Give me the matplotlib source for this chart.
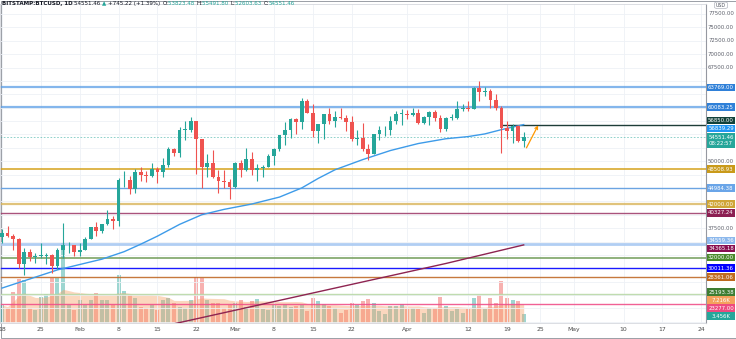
import numpy as np
import pandas as pd
import matplotlib
matplotlib.use('Agg')
import matplotlib.pyplot as plt
from matplotlib.patches import Rectangle, FancyBboxPatch

# BTCUSD daily candles, 2021-01-18 .. 2021-04-22
opens = [35800, 36600, 36000, 35500, 30800, 33000, 32100, 32300, 32300, 32500, 30400, 33400, 34300, 34300,
         33100, 33500, 35500, 37700, 36900, 38300, 39200,
         38900, 46400, 46500, 44900, 48000, 47400, 47200,
         48600, 47900, 49200, 52200, 51600, 55900, 55900,
         57500, 54200, 48900, 49700, 47100, 46300, 46200,
         45200, 49600, 48400, 50500, 48400, 48800, 48900,
         50900, 52300, 54900, 55900, 57800, 57300, 61200,
         59000, 55600, 56900, 58900, 57600, 58300, 58100,
         57300, 54100, 54300, 52300, 51300, 55000, 55800,
         55800, 57600, 58800, 58800, 58700, 59000, 57100,
         58200, 59100, 58000, 56000, 58100, 58100, 59800,
         59900, 59800, 63600, 62900, 63200, 61400, 60000,
         56200, 55700, 56500, 53823.48]
highs = [37400, 37850, 36400, 35600, 33800, 33600, 32900, 34800, 32800, 32600, 33800, 38500, 34900, 34300,
         34700, 35900, 37700, 38700, 38300, 40900, 39700,
         46800, 48200, 47300, 48600, 48900, 48100, 49700,
         49000, 50600, 52600, 52500, 56300, 57500, 58300,
         57500, 54200, 51400, 52100, 48400, 48300, 46600,
         49800, 50200, 52500, 51800, 49400, 49200, 51400,
         52400, 54900, 57400, 58100, 58000, 61800, 61600,
         60600, 56900, 58900, 60000, 59400, 59900, 58600,
         58400, 55800, 57100, 53200, 55100, 56600, 56600,
         58400, 59400, 59800, 59500, 60000, 59800, 58500,
         59300, 59500, 58600, 58200, 58900, 61200, 60700,
         61200, 63800, 64900, 63800, 63500, 62500, 60400,
         57600, 57000, 56800, 55491.80]
lows = [34800, 35900, 33400, 30100, 28800, 31400, 30900, 31900, 30800, 29200, 29900, 31900, 32800, 32300,
        32300, 33400, 35400, 36100, 36600, 38100, 37400,
        37900, 45100, 43800, 44000, 46300, 46200, 47000,
        45900, 47000, 48900, 50900, 50700, 53900, 55500,
        47600, 45000, 47100, 46900, 44100, 45000, 43000,
        45000, 47000, 48200, 47500, 46300, 47100, 48900,
        49300, 51900, 53100, 54300, 55000, 56100, 59000,
        54600, 53400, 54100, 57000, 56300, 57900, 55600,
        53700, 53000, 52000, 50300, 51300, 53900, 54700,
        54900, 57000, 56800, 57900, 58500, 56900, 56900,
        56800, 57600, 55500, 55700, 57700, 57900, 59300,
        59300, 59800, 61300, 62100, 60000, 59600, 51500,
        54200, 53400, 53600, 52603.63]
closes = [36600, 36000, 35500, 30800, 33000, 32100, 32300, 32300, 32500, 30400, 33400, 34300, 34300, 33100,
          33500, 35500, 37700, 36900, 38300, 39200, 38900,
          46400, 46500, 44900, 48000, 47400, 47200, 48600,
          47900, 49200, 52200, 51600, 55900, 55900, 57500,
          54200, 48900, 49700, 47100, 46300, 46200, 45200,
          49600, 48400, 50500, 48400, 48800, 48900, 50900,
          52300, 54900, 55900, 57800, 57300, 61200, 59000,
          55600, 56900, 58900, 57600, 58300, 58100, 57300,
          54100, 54300, 52300, 51300, 55000, 55800, 55800,
          57600, 58800, 58800, 58700, 59000, 57100, 58200,
          59100, 58000, 56000, 58100, 58100, 59800, 59900,
          59800, 63600, 62900, 63200, 61400, 60000, 56200,
          55700, 56500, 53800, 54551.46]
volumes = [6840, 5700, 11780, 16720, 16340, 5700, 4940, 9880, 11020, 17100, 17100, 30400, 6840, 4940,
           8740, 6840, 8740, 11400, 8740, 8740, 6840,
           18240, 12160, 10640, 9500, 6080, 5700, 6840,
           4940, 8740, 9500, 7600, 6080, 5700, 8740,
           17480, 17100, 8740, 7600, 7600, 5700, 6840,
           7600, 8740, 6080, 8360, 9120, 5320, 4940,
           6840, 6460, 7220, 6080, 6460, 6840, 4560,
           9500, 8360, 7220, 6460, 5700, 3800, 4940,
           7600, 6840, 8360, 9120, 7600, 4560, 3420,
           6460, 6460, 7220, 5320, 5700, 5320, 3800,
           5700, 5700, 9880, 6460, 4560, 5320, 3800,
           5320, 9500, 10640, 5320, 9500, 7600, 15960,
           9500, 8740, 8244, 3456]

# moving averages (day index, value)
ma50_days = [0, 5, 10, 14, 18, 22, 25, 28, 32, 36, 40, 45, 50, 54, 57, 60, 65, 70, 75, 80, 84, 87, 90, 94]
ma50_vals = [26300, 28000, 29700, 30700, 31700, 33100, 34500, 36000, 38200, 40000, 41000, 42000, 43300,
             45000, 46800, 48400, 50300, 52000, 53300, 54200, 54600, 55100, 55900, 56839.29]
ma200_days = [20, 40, 60, 80, 94]
ma200_vals = [17100, 21700, 26300, 30900, 34365.18]

# horizontal levels
levels = [63769.00, 60083.25, 48508.93, 44984.38, 42000.00, 40327.24,
          34559.36, 32000.00, 30011.36, 28361.06, 25193.38, 23277.00]
level_line_colors = ['#5b9ee6', '#5b9ee6', '#d4a017', '#5d9ce0', '#d9b55a', '#a0406e',
                     '#a9c9f2', '#6f9a55', '#1a1aff', '#c06a28', '#b9d9a8', '#f0508a']
level_label_colors = ['#2f80d8', '#2f80d8', '#c99a1a', '#6aa5e8', '#cfa637', '#8c1f52',
                      '#8cb8ec', '#4a8a2a', '#0000ff', '#bf6a1f', '#3e7d32', '#ee4a7e']
level_widths = [1.6, 1.6, 1.2, 1.0, 1.6, 1.0, 2.0, 1.2, 1.0, 1.0, 1.0, 1.0]
level_alpha = [0.75, 0.75, 0.9, 0.9, 0.8, 0.9, 0.9, 0.9, 1.0, 0.9, 0.9, 0.9]
resistance = 56850.00

tick_dates = ['2021-01-18', '2021-01-25', '2021-02-01', '2021-02-08', '2021-02-15', '2021-02-22',
              '2021-03-01', '2021-03-08', '2021-03-15', '2021-03-22', '2021-04-01', '2021-04-12',
              '2021-04-19', '2021-04-25', '2021-05-01', '2021-05-10', '2021-05-17', '2021-05-24']
tick_labels = ['18', '25', 'Feb', '8', '15', '22', 'Mar', '8', '15', '22', 'Apr', '12', '19', '25',
               'May', '10', '17', '24']

opens, highs, lows, closes = map(np.array, (opens, highs, lows, closes))
volumes = np.array(volumes, dtype=float)
n = len(opens)
x = np.arange(n)
start = pd.Timestamp('2021-01-18')
tick_pos = [(pd.Timestamp(d) - start).days for d in tick_dates]

UP, DOWN = '#26a69a', '#ef5350'
W, H = 736, 339
fig = plt.figure(figsize=(W / 100, H / 100), dpi=100)
ax = fig.add_axes([0, 16 / H, 706 / W, 319 / H])
vax = ax.twinx()
ax.set_zorder(2)
vax.set_zorder(1)
ax.patch.set_visible(False)

ax.set_xlim(-0.36, 126.85)
ax.set_ylim(19777, 79367)
vax.set_ylim(0, 319 * 380)
vax.axis('off')

# grid
ax.set_xticks(tick_pos, tick_labels)
ax.set_yticks(np.arange(20000, 80000, 2500))
ax.grid(color='#eef1f6', lw=0.6)
ax.tick_params(axis='x', length=0, pad=3.2, labelsize=4.4, colors='#4a4a4a')
ax.tick_params(axis='y', left=False, right=False, labelleft=False, labelright=False)
for s in ['top', 'left', 'bottom']:
    ax.spines[s].set_color('#d6d8de')
    ax.spines[s].set_linewidth(0.6)
ax.spines['right'].set_color('#9598a1')
ax.spines['right'].set_linewidth(0.8)

colors = np.where(closes >= opens, UP, DOWN)

# volume with its moving average area
vax.bar(x, volumes, width=0.72, color=colors, alpha=0.45, lw=0)
vol_ma = pd.Series(volumes).rolling(20, min_periods=1).mean().values
vax.fill_between(x, 0, vol_ma, color='#f7a066', alpha=0.42, lw=0)

# levels
for v, c, w, a in zip(levels, level_line_colors, level_widths, level_alpha):
    ax.axhline(v, color=c, lw=w, alpha=a, zorder=2)
ax.hlines(resistance, 90, 126.85, color='#1e3d38', lw=1.0, zorder=2)
ax.axhline(closes[-1], color=UP, lw=0.6, ls=(0, (2, 2)), alpha=0.6, zorder=2)

# moving averages
ax.plot(ma50_days, ma50_vals, color='#3d9be9', lw=1.0, zorder=3)
ax.plot(ma200_days, ma200_vals, color='#8e2451', lw=1.0, zorder=3)

# candles
ax.vlines(x, lows, highs, colors=colors, lw=0.8, zorder=4)
body_lo = np.minimum(opens, closes)
body_h = np.maximum(np.abs(closes - opens), 120)
ax.bar(x, body_h, bottom=body_lo, width=0.68, color=colors, lw=0, zorder=5)

# projected move
ax.annotate('', xy=(96.6, 56700), xytext=(94.5, 52500),
            arrowprops=dict(arrowstyle='->', color='#ff9800', lw=0.9, shrinkA=0, shrinkB=0,
                            mutation_scale=5), zorder=6)


def price_px(v):
    return H - ax.transData.transform((0, v))[1]


def vol_px(v):
    return H - vax.transData.transform((0, v))[1]


# coloured value tags on the price scale
tags = []
for v, c in zip(levels, level_label_colors):
    tags.append([price_px(v), f'{v:.2f}', c, 7.6])
tags.append([price_px(resistance), f'{resistance:.2f}', '#12423b', 7.6])
tags.append([price_px(ma50_vals[-1]), f'{ma50_vals[-1]:.2f}', '#2196f3', 7.6])
tags.append([price_px(ma200_vals[-1]), f'{ma200_vals[-1]:.2f}', '#880e4f', 7.6])
tags.append([price_px(closes[-1]) + 3.6, f'{closes[-1]:.2f}\n08:22:57', UP, 14.6])
tags.append([vol_px(vol_ma[-1]), f'{vol_ma[-1] / 1000:.3f}K', '#f4a15d', 7.6])
tags.append([vol_px(volumes[-1]), f'{volumes[-1] / 1000:.3f}K', UP, 7.6])
tags.sort(key=lambda t: t[0])
for _ in range(200):
    for a, b in zip(tags[:-1], tags[1:]):
        overlap = (a[0] + a[3] / 2 + 0.4) - (b[0] - b[3] / 2)
        if overlap > 0:
            a[0] -= overlap / 2
            b[0] += overlap / 2
for y, txt, c, h in tags:
    fig.add_artist(Rectangle((707 / W, 1 - (y + h / 2) / H), 28 / W, h / H,
                             transform=fig.transFigure, color=c, lw=0, zorder=10))
    fig.text(721 / W, 1 - y / H, txt, fontsize=3.9, color='white', ha='center', va='center',
             linespacing=1.25, zorder=11)

# price scale labels, skipped where a tag covers them
for v in np.arange(20000, 80000, 2500):
    y = price_px(v)
    covered = any(abs(y - ty) < th / 2 + 3.2 for ty, _, _, th in tags)
    if 9 < y < 322 and not covered:
        fig.text(721 / W, 1 - y / H, f'{v:.2f}', fontsize=3.9, color='#5d606b',
                 ha='center', va='center', zorder=8)

# currency badge
fig.add_artist(FancyBboxPatch((714.5 / W, 1 - 8.5 / H), 13 / W, 6.5 / H,
                              boxstyle='round,pad=0,rounding_size=0.004',
                              transform=fig.transFigure, fc='white', ec='#b2b5be', lw=0.5, zorder=12))
fig.text(721 / W, 1 - 5.2 / H, 'USD', fontsize=3.4, color='#50535e', ha='center', va='center', zorder=13)

# header line
renderer = fig.canvas.get_renderer()
parts = [('BITSTAMP:BTCUSD, 1D ', '#131722', 'bold'), ('54551.46 ', '#131722', 'normal'),
         ('▲ ', UP, 'normal'), ('+745.22 (+1.39%) ', '#131722', 'normal'),
         ('O:', '#131722', 'normal'), ('53823.48 ', UP, 'normal'),
         ('H:', '#131722', 'normal'), ('55491.80 ', UP, 'normal'),
         ('L:', '#131722', 'normal'), ('52603.63 ', UP, 'normal'),
         ('C:', '#131722', 'normal'), ('54551.46', UP, 'normal')]
xpos = 2
for txt, c, wgt in parts:
    t = fig.text(xpos / W, 1 - 3.4 / H, txt, fontsize=4.0, color=c, fontweight=wgt,
                 ha='left', va='center', zorder=12)
    xpos += t.get_window_extent(renderer).width

fig.add_artist(Rectangle((0.5 / W, 1.5 / H), 735 / W, 337 / H, transform=fig.transFigure,
                         fill=False, ec='#8a8f98', lw=0.6, zorder=0))

fig.savefig('out.png', dpi=100, facecolor='white')
